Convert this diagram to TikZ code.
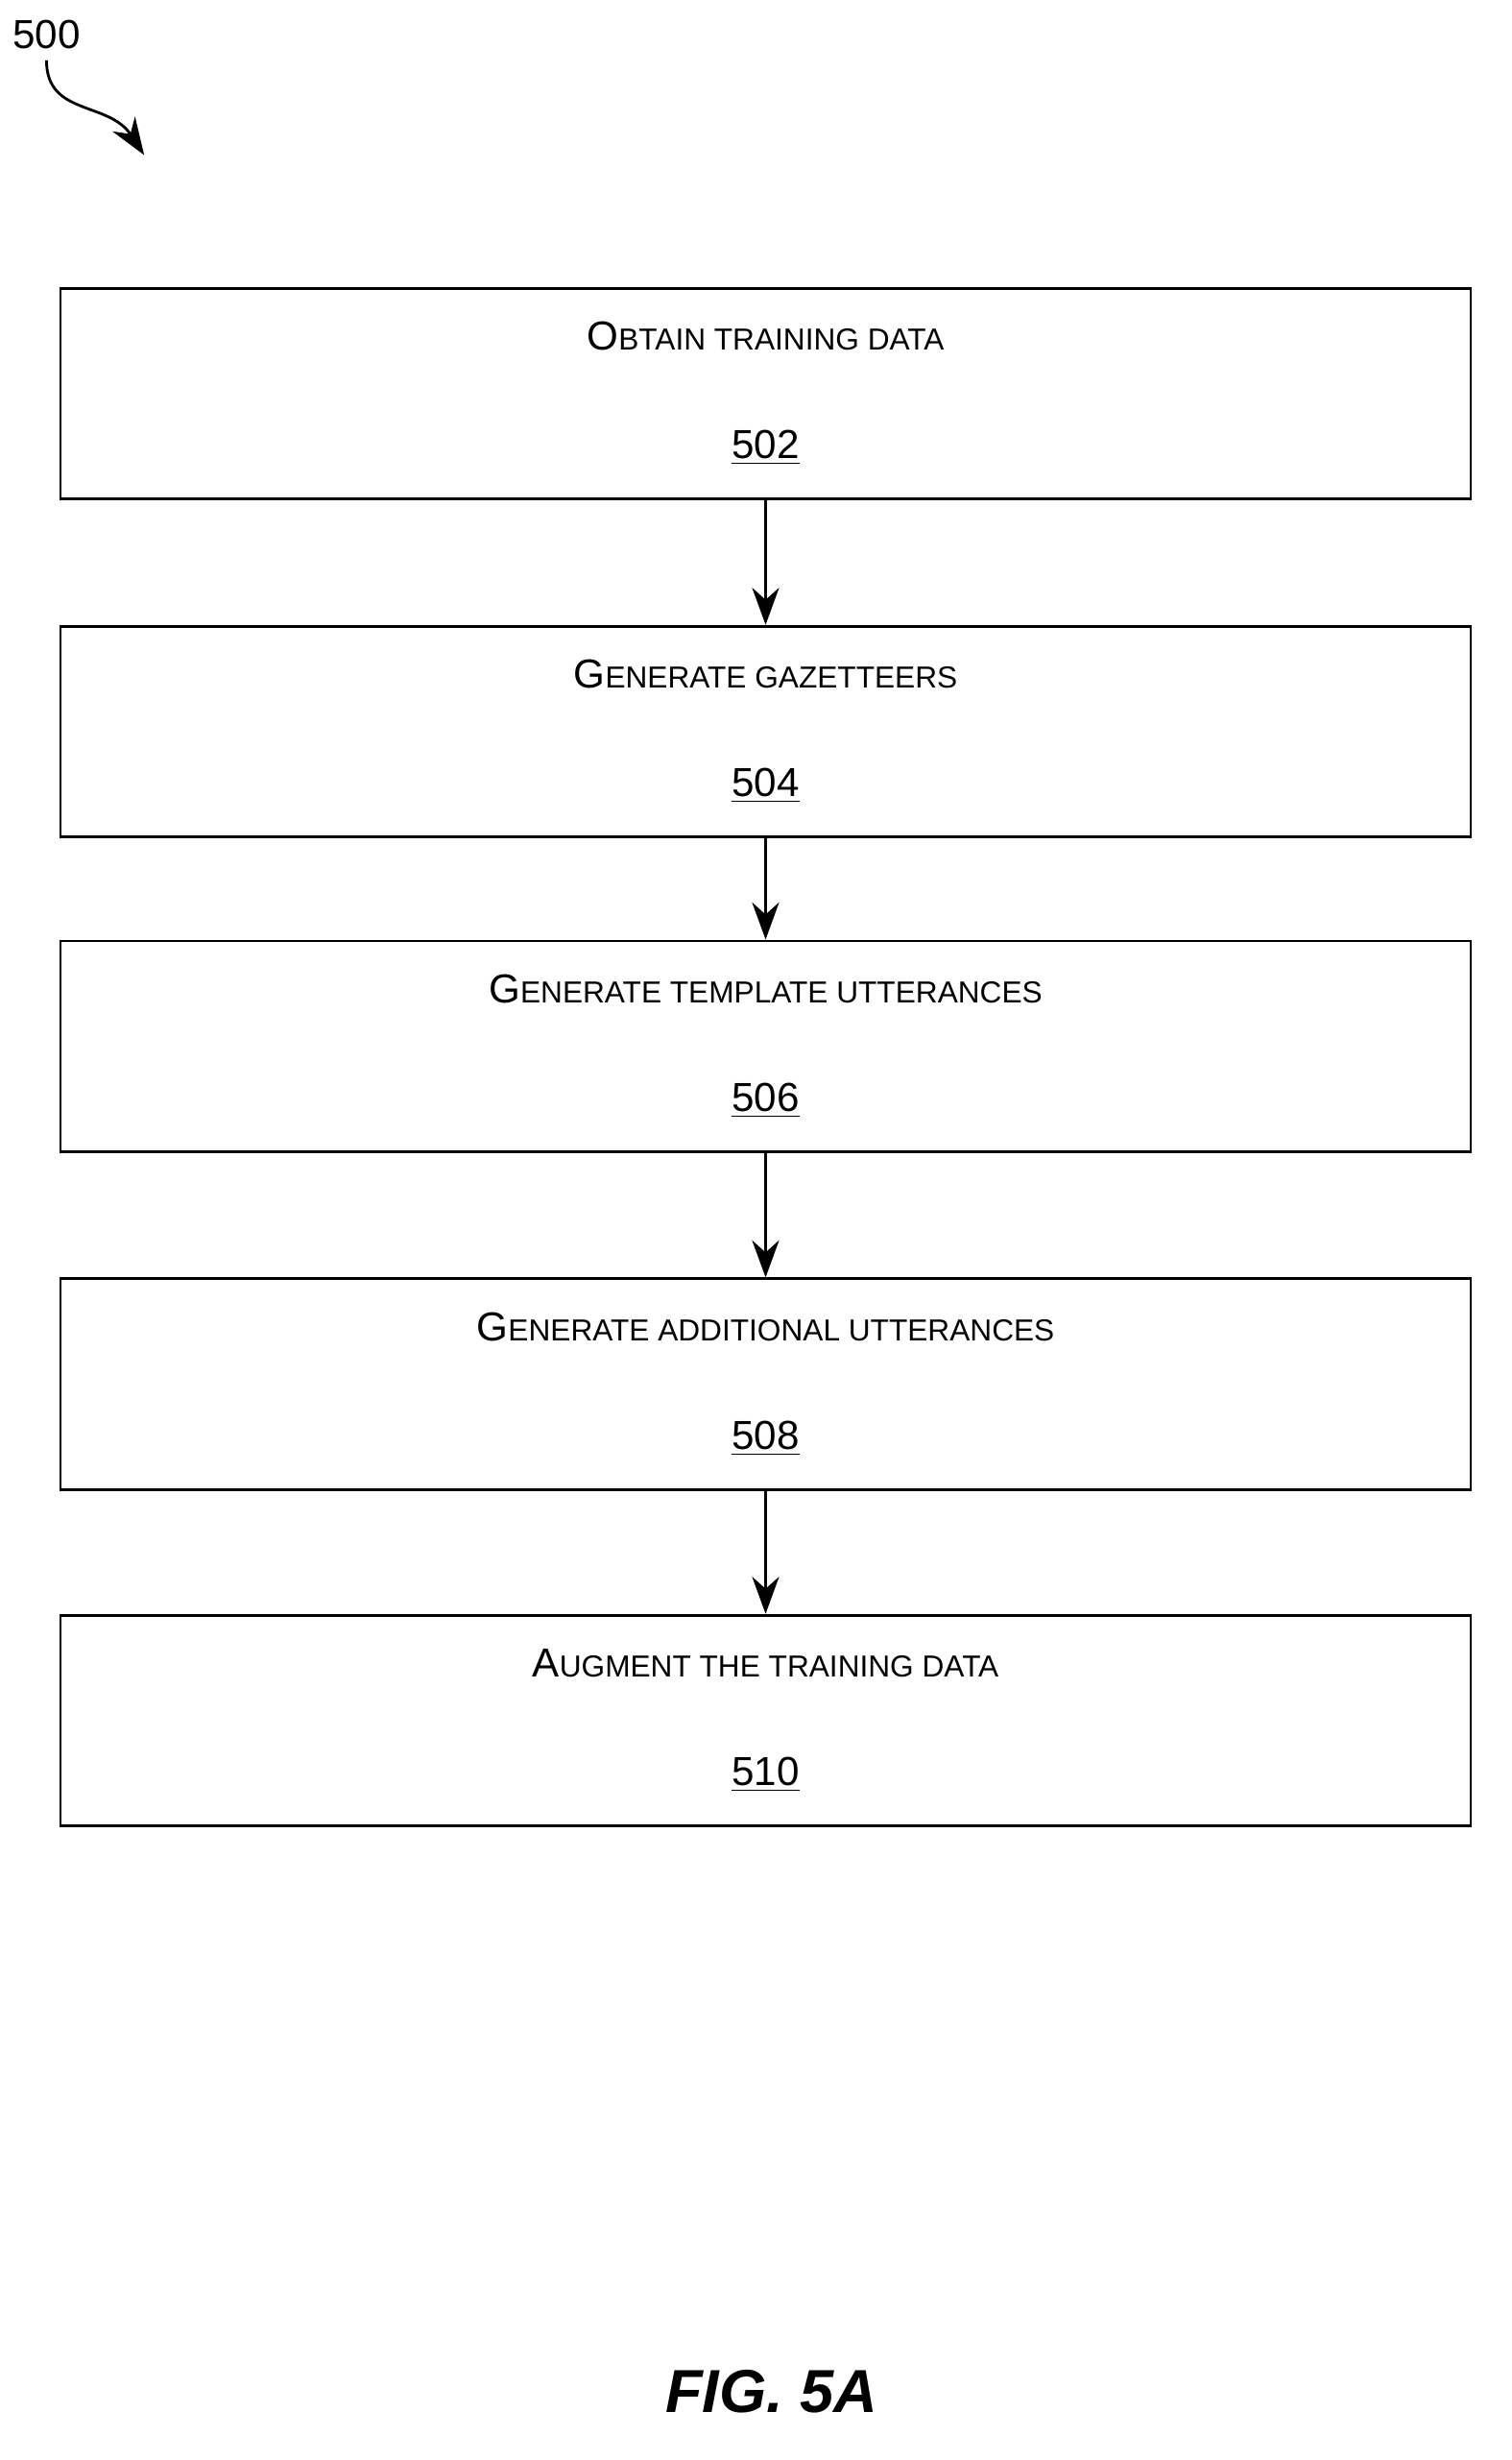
\documentclass[tikz,border=0pt]{standalone}
\usepackage{fontspec}
\setmainfont{Liberation Sans}
\usetikzlibrary{arrows.meta}
\newcommand{\Cap}[2]{{\fontsize{12pt}{15pt}\selectfont #1}{\fontsize{9pt}{15pt}\selectfont #2}}
\tikzset{
  stepbox/.style={draw,thick,minimum width=14.69cm,minimum height=2.196cm,align=center,
    font=\fontsize{12pt}{15pt}\selectfont},
  flow/.style={thick,-{Stealth[length=11pt,width=8pt]}}
}
\begin{document}
\begin{tikzpicture}[x=0.016144cm,y=-0.016144cm]
	\useasboundingbox (0,0) rectangle (975,1587);
	% figure number
	\node[font=\fontsize{12pt}{15pt}\selectfont] (fig) at (30,22) {500};
	\coordinate (figend) at (93,100);
	\draw[thick,-{Stealth[length=11pt,width=8pt]}] (fig.south) .. controls (30,75) and (70,65) .. (figend);
	% steps
	\node[stepbox] (s502) at (494,254) {\Cap{O}{BTAIN TRAINING DATA}\\[0.6cm]\underline{502}};
	\node[stepbox] (s504) at (494,472) {\Cap{G}{ENERATE GAZETTEERS}\\[0.6cm]\underline{504}};
	\node[stepbox] (s506) at (494,675) {\Cap{G}{ENERATE TEMPLATE UTTERANCES}\\[0.6cm]\underline{506}};
	\node[stepbox] (s508) at (494,893) {\Cap{G}{ENERATE ADDITIONAL UTTERANCES}\\[0.6cm]\underline{508}};
	\node[stepbox] (s510) at (494,1110) {\Cap{A}{UGMENT THE TRAINING DATA}\\[0.6cm]\underline{510}};
	\foreach \a/\b in {s502/s504,s504/s506,s506/s508,s508/s510}
		\draw[flow] (\a) -- (\b);
	\node[font=\bfseries\itshape\fontsize{18pt}{22pt}\selectfont] (cap) at (498,1543) {FIG. 5A};
\end{tikzpicture}
\end{document}
